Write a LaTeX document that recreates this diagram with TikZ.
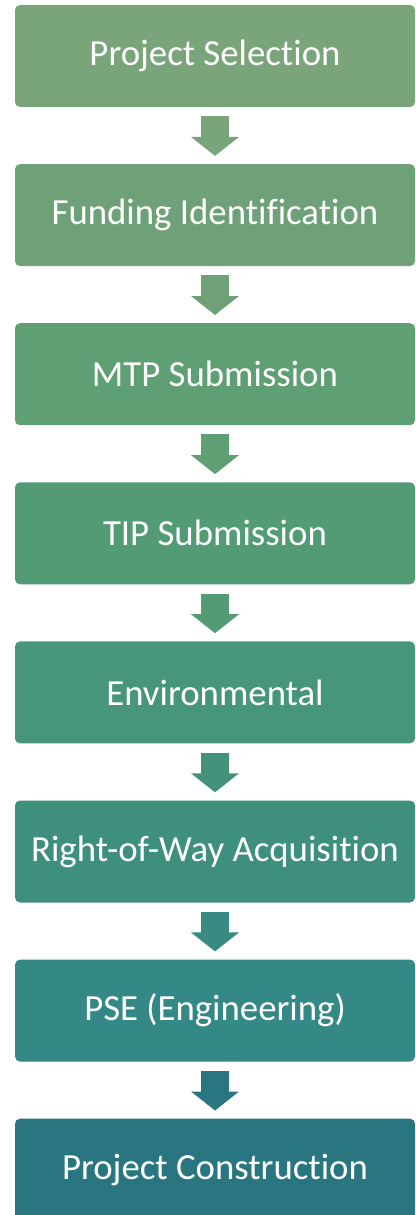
\documentclass[tikz,border=0pt]{standalone}
\usepackage{fontspec}
\setmainfont[Ligatures=NoCommon]{Carlito}
\usetikzlibrary{positioning,arrows.meta}

\definecolor{stepA}{RGB}{122,164,122}
\definecolor{stepB}{RGB}{110,161,120}
\definecolor{stepC}{RGB}{94,159,115}
\definecolor{stepD}{RGB}{82,155,117}
\definecolor{stepE}{RGB}{71,150,122}
\definecolor{stepF}{RGB}{62,143,126}
\definecolor{stepG}{RGB}{52,136,134}
\definecolor{stepH}{RGB}{42,118,128}

\begin{document}
\begin{tikzpicture}[node distance=56.7pt, x=1pt, y=1pt,
  stepbox/.style={fill=#1, text=white, rounded corners=5pt, minimum width=400pt,
    minimum height=102pt, inner sep=0pt, font=\fontsize{36.8}{44}\selectfont},
  flow/.style={draw=#1, line width=28pt, -{Triangle[width=47pt,length=19pt]},
    shorten <=9pt, shorten >=8pt}]
\useasboundingbox (0,0) rectangle (415,-1215);
\node[stepbox=stepA] (sel) at (215,-56) {Project Selection};
\node[stepbox=stepB, below=of sel] (fund) {Funding Identification};
\node[stepbox=stepC, below=of fund] (mtp) {MTP Submission};
\node[stepbox=stepD, below=of mtp] (tip) {TIP Submission};
\node[stepbox=stepE, below=of tip] (env) {Environmental};
\node[stepbox=stepF, below=of env] (row) {Right-of-Way Acquisition};
\node[stepbox=stepG, below=of row] (pse) {PSE (Engineering)};
\node[stepbox=stepH, below=of pse] (cons) {Project Construction};
\draw[flow=stepA] (sel) -- (fund);
\draw[flow=stepB] (fund) -- (mtp);
\draw[flow=stepC] (mtp) -- (tip);
\draw[flow=stepD] (tip) -- (env);
\draw[flow=stepE!50!stepF] (env) -- (row);
\draw[flow=stepF!50!stepG] (row) -- (pse);
\draw[flow=stepH] (pse) -- (cons);
\end{tikzpicture}
\end{document}
